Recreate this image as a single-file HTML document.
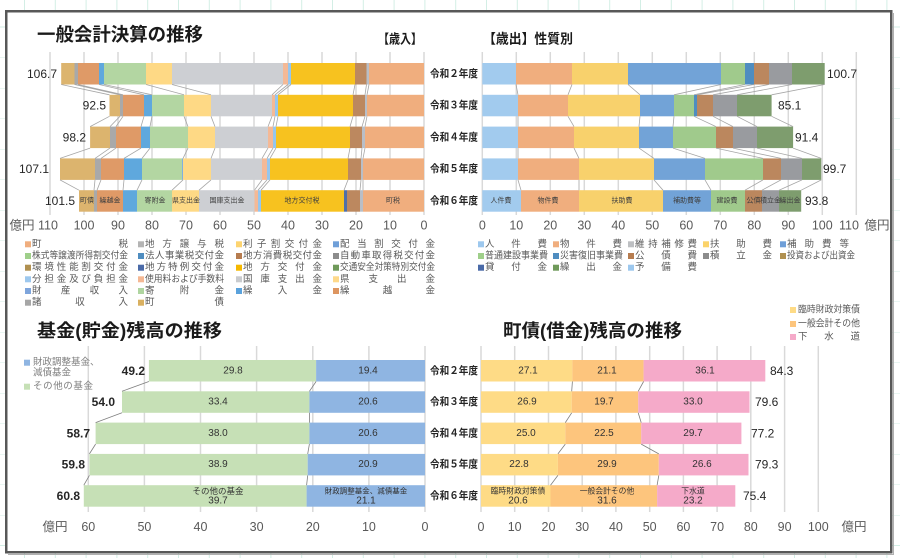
<!DOCTYPE html>
<html><head><meta charset="utf-8">
<style>
html,body{margin:0;padding:0;background:#fff;}
svg{display:block;}
text{font-family:"Liberation Sans","Noto Sans CJK JP",sans-serif;}
.tk{font-size:12.5px;fill:#595959;text-anchor:middle;}
.rl{font-size:10.5px;font-weight:bold;fill:#262626;}
.lg{font-size:9.5px;fill:#595959;}
.sm{font-size:7px;fill:#404040;text-anchor:middle;}
.in{font-size:10px;fill:#333;text-anchor:middle;}
.tt{font-weight:bold;fill:#1a1a1a;}
.vl{font-size:12px;fill:#262626;}
</style></head><body>
<svg width="900" height="558" viewBox="0 0 900 558" xmlns="http://www.w3.org/2000/svg">
<defs>
<pattern id="bg" x="24" y="26.5" width="30.8" height="30.5" patternUnits="userSpaceOnUse">
<path d="M0.5 0V30.5M0 0.5H30.8" stroke="#d3eee5" stroke-width="1" fill="none"/>
</pattern>
</defs>
<rect width="900" height="558" fill="#fff"/>
<rect width="900" height="558" fill="url(#bg)"/>
<line x1="893.5" y1="13" x2="893.5" y2="555" stroke="#b0b0b0" stroke-width="1"/>
<line x1="8" y1="554.5" x2="894" y2="554.5" stroke="#b0b0b0" stroke-width="1"/>
<rect x="6.25" y="11.25" width="885" height="541" fill="#fff" stroke="#585858" stroke-width="2.5"/>

<!-- Titles -->
<text class="tt" x="37" y="41" font-size="18.5" textLength="166" lengthAdjust="spacingAndGlyphs">一般会計決算の推移</text>
<text class="tt" x="378" y="43.5" font-size="13" textLength="44" lengthAdjust="spacingAndGlyphs">【歳入】</text>
<text class="tt" x="483" y="43.5" font-size="13.5" textLength="90" lengthAdjust="spacingAndGlyphs">【歳出】性質別</text>
<text class="tt" x="37" y="337" font-size="18" textLength="185" lengthAdjust="spacingAndGlyphs">基金(貯金)残高の推移</text>
<text class="tt" x="503" y="337" font-size="18" textLength="179" lengthAdjust="spacingAndGlyphs">町債(借金)残高の推移</text>

<!-- Top gridlines -->
<g stroke="#d9d9d9" stroke-width="1.5">
<line x1="424" y1="52" x2="424" y2="215"/><line x1="390" y1="52" x2="390" y2="215"/><line x1="356" y1="52" x2="356" y2="215"/><line x1="322" y1="52" x2="322" y2="215"/><line x1="288" y1="52" x2="288" y2="215"/><line x1="254" y1="52" x2="254" y2="215"/><line x1="220" y1="52" x2="220" y2="215"/><line x1="186" y1="52" x2="186" y2="215"/><line x1="152" y1="52" x2="152" y2="215"/><line x1="118" y1="52" x2="118" y2="215"/><line x1="84" y1="52" x2="84" y2="215"/><line x1="50" y1="52" x2="50" y2="215"/>
<line x1="482.3" y1="52" x2="482.3" y2="215"/><line x1="516.3" y1="52" x2="516.3" y2="215"/><line x1="550.3" y1="52" x2="550.3" y2="215"/><line x1="584.3" y1="52" x2="584.3" y2="215"/><line x1="618.3" y1="52" x2="618.3" y2="215"/><line x1="652.3" y1="52" x2="652.3" y2="215"/><line x1="686.3" y1="52" x2="686.3" y2="215"/><line x1="720.3" y1="52" x2="720.3" y2="215"/><line x1="754.3" y1="52" x2="754.3" y2="215"/><line x1="788.3" y1="52" x2="788.3" y2="215"/><line x1="822.3" y1="52" x2="822.3" y2="215"/><line x1="856.3" y1="52" x2="856.3" y2="215"/>
</g>

<!-- Top-left bars -->
<g transform="translate(0,63)">
<rect x="61.2" y="0" width="13.3" height="21.5" fill="#dcb46e"/><rect x="74.5" y="0" width="3.5" height="21.5" fill="#a9a9a9"/><rect x="78" y="0" width="21" height="21.5" fill="#df9a67"/><rect x="99" y="0" width="5" height="21.5" fill="#5fa8dd"/><rect x="104" y="0" width="42" height="21.5" fill="#b3d6a2"/><rect x="146" y="0" width="26" height="21.5" fill="#fed985"/><rect x="172" y="0" width="111" height="21.5" fill="#cdcfd3"/><rect x="283" y="0" width="5" height="21.5" fill="#f4b996"/><rect x="288" y="0" width="3" height="21.5" fill="#95c6ee"/><rect x="291" y="0" width="64" height="21.5" fill="#f7c21f"/><rect x="355" y="0" width="11.5" height="21.5" fill="#bc885f"/><rect x="366.5" y="0" width="2.5" height="21.5" fill="#b9bec6"/><rect x="369" y="0" width="55" height="21.5" fill="#f0ae7e"/>
</g>
<g transform="translate(0,94.8)">
<rect x="109.5" y="0" width="10.5" height="21.5" fill="#dcb46e"/><rect x="120" y="0" width="3" height="21.5" fill="#a9a9a9"/><rect x="123" y="0" width="21" height="21.5" fill="#df9a67"/><rect x="144" y="0" width="8" height="21.5" fill="#5fa8dd"/><rect x="152" y="0" width="32" height="21.5" fill="#b3d6a2"/><rect x="184" y="0" width="27" height="21.5" fill="#fed985"/><rect x="211" y="0" width="61" height="21.5" fill="#cdcfd3"/><rect x="272" y="0" width="3" height="21.5" fill="#f4b996"/><rect x="275" y="0" width="3" height="21.5" fill="#95c6ee"/><rect x="278" y="0" width="75" height="21.5" fill="#f7c21f"/><rect x="353" y="0" width="12" height="21.5" fill="#bc885f"/><rect x="365" y="0" width="2" height="21.5" fill="#b9bec6"/><rect x="367" y="0" width="57" height="21.5" fill="#f0ae7e"/>
</g>
<g transform="translate(0,126.6)">
<rect x="90.1" y="0" width="19.9" height="21.5" fill="#dcb46e"/><rect x="110" y="0" width="6" height="21.5" fill="#a9a9a9"/><rect x="116" y="0" width="25" height="21.5" fill="#df9a67"/><rect x="141" y="0" width="9" height="21.5" fill="#5fa8dd"/><rect x="150" y="0" width="38" height="21.5" fill="#b3d6a2"/><rect x="188" y="0" width="27" height="21.5" fill="#fed985"/><rect x="215" y="0" width="53" height="21.5" fill="#cdcfd3"/><rect x="268" y="0" width="5" height="21.5" fill="#f4b996"/><rect x="273" y="0" width="3" height="21.5" fill="#95c6ee"/><rect x="276" y="0" width="74" height="21.5" fill="#f7c21f"/><rect x="350" y="0" width="12" height="21.5" fill="#bc885f"/><rect x="362" y="0" width="3" height="21.5" fill="#b9bec6"/><rect x="365" y="0" width="59" height="21.5" fill="#f0ae7e"/>
</g>
<g transform="translate(0,158.4)">
<rect x="60" y="0" width="35" height="21.5" fill="#dcb46e"/><rect x="95" y="0" width="6" height="21.5" fill="#a9a9a9"/><rect x="101" y="0" width="23" height="21.5" fill="#df9a67"/><rect x="124" y="0" width="18" height="21.5" fill="#5fa8dd"/><rect x="142" y="0" width="40" height="21.5" fill="#b3d6a2"/><rect x="182" y="0" width="1" height="21.5" fill="#7fb0e0"/><rect x="183" y="0" width="28" height="21.5" fill="#fed985"/><rect x="211" y="0" width="51" height="21.5" fill="#cdcfd3"/><rect x="262" y="0" width="5" height="21.5" fill="#f4b996"/><rect x="267" y="0" width="3" height="21.5" fill="#95c6ee"/><rect x="270" y="0" width="78" height="21.5" fill="#f7c21f"/><rect x="348" y="0" width="13" height="21.5" fill="#bc885f"/><rect x="361" y="0" width="2" height="21.5" fill="#b9bec6"/><rect x="363" y="0" width="61" height="21.5" fill="#f0ae7e"/>
</g>
<g transform="translate(0,190.2)">
<rect x="79" y="0" width="15" height="21.5" fill="#dcb46e"/><rect x="94" y="0" width="3" height="21.5" fill="#a9a9a9"/><rect x="97" y="0" width="26" height="21.5" fill="#df9a67"/><rect x="123" y="0" width="14" height="21.5" fill="#5fa8dd"/><rect x="137" y="0" width="35" height="21.5" fill="#b3d6a2"/><rect x="172" y="0" width="27" height="21.5" fill="#fed985"/><rect x="199" y="0" width="55.5" height="21.5" fill="#cdcfd3"/><rect x="254.5" y="0" width="3.5" height="21.5" fill="#f4b996"/><rect x="258" y="0" width="3" height="21.5" fill="#95c6ee"/><rect x="261" y="0" width="83" height="21.5" fill="#f7c21f"/><rect x="344" y="0" width="3" height="21.5" fill="#4f6fa8"/><rect x="347" y="0" width="13" height="21.5" fill="#bc885f"/><rect x="360" y="0" width="3" height="21.5" fill="#b9bec6"/><rect x="363" y="0" width="61" height="21.5" fill="#f0ae7e"/>
<text class="sm" x="87" y="11" dominant-baseline="central">町債</text>
<text class="sm" x="110" y="11" dominant-baseline="central">繰越金</text>
<text class="sm" x="155" y="11" dominant-baseline="central">寄附金</text>
<text class="sm" x="186" y="11" dominant-baseline="central">県支出金</text>
<text class="sm" x="227" y="11" dominant-baseline="central">国庫支出金</text>
<text class="sm" x="302" y="11" dominant-baseline="central">地方交付税</text>
<text class="sm" x="393" y="11" dominant-baseline="central">町税</text>
</g>
<path fill="none" stroke="#a6a6a6" stroke-width="0.8" d="M61.2 84.5L109.5 94.8M74.5 84.5L120 94.8M78 84.5L123 94.8M99 84.5L144 94.8M104 84.5L152 94.8M146 84.5L184 94.8M172 84.5L211 94.8M283 84.5L272 94.8M288 84.5L275 94.8M291 84.5L278 94.8M355 84.5L353 94.8M366.5 84.5L365 94.8M369 84.5L367 94.8
M109.5 116.3L90.1 126.6M120 116.3L110 126.6M123 116.3L116 126.6M144 116.3L141 126.6M152 116.3L150 126.6M184 116.3L188 126.6M211 116.3L215 126.6M272 116.3L268 126.6M275 116.3L273 126.6M278 116.3L276 126.6M353 116.3L350 126.6M365 116.3L362 126.6M367 116.3L365 126.6
M90.1 148.1L60 158.4M110 148.1L95 158.4M116 148.1L101 158.4M141 148.1L124 158.4M150 148.1L142 158.4M188 148.1L183 158.4M215 148.1L211 158.4M268 148.1L262 158.4M273 148.1L267 158.4M276 148.1L270 158.4M350 148.1L348 158.4M362 148.1L361 158.4M365 148.1L363 158.4
M60 179.9L79 190.2M95 179.9L94 190.2M101 179.9L97 190.2M124 179.9L123 190.2M142 179.9L137 190.2M183 179.9L172 190.2M211 179.9L199 190.2M262 179.9L254.5 190.2M267 179.9L258 190.2M270 179.9L261 190.2M348 179.9L344 190.2M361 179.9L360 190.2M363 179.9L363 190.2"/>

<!-- Top-left values -->
<g class="vl" text-anchor="end">
<text x="57" y="73.75" dominant-baseline="central">106.7</text>
<text x="106" y="105.55" dominant-baseline="central">92.5</text>
<text x="86" y="137.35" dominant-baseline="central">98.2</text>
<text x="49" y="169.15" dominant-baseline="central">107.1</text>
<text x="75" y="200.95" dominant-baseline="central">101.5</text>
</g>

<!-- Top-right bars -->
<g transform="translate(0,63)">
<rect x="482.3" y="0" width="33.7" height="21.5" fill="#a2cbee"/><rect x="516" y="0" width="56" height="21.5" fill="#f0ae7e"/><rect x="572" y="0" width="56" height="21.5" fill="#f8d16c"/><rect x="628" y="0" width="93" height="21.5" fill="#72a3d7"/><rect x="721" y="0" width="24" height="21.5" fill="#a0ca8c"/><rect x="745" y="0" width="9" height="21.5" fill="#4f8dc0"/><rect x="754" y="0" width="15" height="21.5" fill="#bb875e"/><rect x="769" y="0" width="23" height="21.5" fill="#999b9f"/><rect x="792" y="0" width="32.7" height="21.5" fill="#7e9d6e"/>
</g>
<g transform="translate(0,94.8)">
<rect x="482.3" y="0" width="35.7" height="21.5" fill="#a2cbee"/><rect x="518" y="0" width="50" height="21.5" fill="#f0ae7e"/><rect x="568" y="0" width="72" height="21.5" fill="#f8d16c"/><rect x="640" y="0" width="34" height="21.5" fill="#72a3d7"/><rect x="674" y="0" width="20" height="21.5" fill="#a0ca8c"/><rect x="694" y="0" width="3" height="21.5" fill="#4f8dc0"/><rect x="697" y="0" width="16" height="21.5" fill="#bb875e"/><rect x="713" y="0" width="24" height="21.5" fill="#999b9f"/><rect x="737" y="0" width="34.6" height="21.5" fill="#7e9d6e"/>
</g>
<g transform="translate(0,126.6)">
<rect x="482.3" y="0" width="35.7" height="21.5" fill="#a2cbee"/><rect x="518" y="0" width="56" height="21.5" fill="#f0ae7e"/><rect x="574" y="0" width="65" height="21.5" fill="#f8d16c"/><rect x="639" y="0" width="34" height="21.5" fill="#72a3d7"/><rect x="673" y="0" width="43" height="21.5" fill="#a0ca8c"/><rect x="716" y="0" width="17" height="21.5" fill="#bb875e"/><rect x="733" y="0" width="24" height="21.5" fill="#999b9f"/><rect x="757" y="0" width="36.1" height="21.5" fill="#7e9d6e"/>
</g>
<g transform="translate(0,158.4)">
<rect x="482.3" y="0" width="35.7" height="21.5" fill="#a2cbee"/><rect x="518" y="0" width="61" height="21.5" fill="#f0ae7e"/><rect x="579" y="0" width="75" height="21.5" fill="#f8d16c"/><rect x="654" y="0" width="51" height="21.5" fill="#72a3d7"/><rect x="705" y="0" width="58" height="21.5" fill="#a0ca8c"/><rect x="763" y="0" width="18" height="21.5" fill="#bb875e"/><rect x="781" y="0" width="21" height="21.5" fill="#999b9f"/><rect x="802" y="0" width="19.3" height="21.5" fill="#7e9d6e"/>
</g>
<g transform="translate(0,190.2)">
<rect x="482.3" y="0" width="38.7" height="21.5" fill="#a2cbee"/><rect x="521" y="0" width="58" height="21.5" fill="#f0ae7e"/><rect x="579" y="0" width="84" height="21.5" fill="#f8d16c"/><rect x="663" y="0" width="48" height="21.5" fill="#72a3d7"/><rect x="711" y="0" width="34" height="21.5" fill="#a0ca8c"/><rect x="745" y="0" width="17" height="21.5" fill="#bb875e"/><rect x="762" y="0" width="17" height="21.5" fill="#999b9f"/><rect x="779" y="0" width="22.2" height="21.5" fill="#7e9d6e"/>
<text class="sm" x="501" y="11" dominant-baseline="central">人件費</text>
<text class="sm" x="548" y="11" dominant-baseline="central">物件費</text>
<text class="sm" x="622" y="11" dominant-baseline="central">扶助費</text>
<text class="sm" x="687" y="11" dominant-baseline="central">補助費等</text>
<text class="sm" x="727" y="11" dominant-baseline="central">建設費</text>
<text class="sm" x="753.5" y="11" dominant-baseline="central">公債</text>
<text class="sm" x="770.5" y="11" dominant-baseline="central">積立金</text>
<text class="sm" x="790" y="11" dominant-baseline="central">繰出金</text>
</g>
<path fill="none" stroke="#a6a6a6" stroke-width="0.8" d="M516 84.5L518 94.8M572 84.5L568 94.8M628 84.5L640 94.8M721 84.5L674 94.8M745 84.5L694 94.8M754 84.5L697 94.8M769 84.5L713 94.8M792 84.5L737 94.8M824.7 84.5L771.6 94.8
M518 116.3L518 126.6M568 116.3L574 126.6M640 116.3L639 126.6M674 116.3L673 126.6M694 116.3L716 126.6M713 116.3L733 126.6M737 116.3L757 126.6M771.6 116.3L793.1 126.6
M518 148.1L518 158.4M574 148.1L579 158.4M639 148.1L654 158.4M673 148.1L705 158.4M716 148.1L763 158.4M733 148.1L781 158.4M757 148.1L802 158.4M793.1 148.1L821.3 158.4
M518 179.9L521 190.2M579 179.9L579 190.2M654 179.9L663 190.2M705 179.9L711 190.2M763 179.9L745 190.2M781 179.9L762 190.2M802 179.9L779 190.2M821.3 179.9L801.2 190.2"/>

<!-- Top-right values -->
<g class="vl">
<text x="827" y="73.75" dominant-baseline="central">100.7</text>
<text x="778" y="105.55" dominant-baseline="central">85.1</text>
<text x="795" y="137.35" dominant-baseline="central">91.4</text>
<text x="823" y="169.15" dominant-baseline="central">99.7</text>
<text x="805" y="200.95" dominant-baseline="central">93.8</text>
</g>

<!-- Row labels -->
<g class="rl">
<text x="430" y="73.75" dominant-baseline="central" textLength="48" lengthAdjust="spacingAndGlyphs">令和２年度</text>
<text x="430" y="105.55" dominant-baseline="central" textLength="48" lengthAdjust="spacingAndGlyphs">令和３年度</text>
<text x="430" y="137.35" dominant-baseline="central" textLength="48" lengthAdjust="spacingAndGlyphs">令和４年度</text>
<text x="430" y="169.15" dominant-baseline="central" textLength="48" lengthAdjust="spacingAndGlyphs">令和５年度</text>
<text x="430" y="200.95" dominant-baseline="central" textLength="48" lengthAdjust="spacingAndGlyphs">令和６年度</text>
<text x="430" y="370.75" dominant-baseline="central" textLength="48" lengthAdjust="spacingAndGlyphs">令和２年度</text>
<text x="430" y="402.05" dominant-baseline="central" textLength="48" lengthAdjust="spacingAndGlyphs">令和３年度</text>
<text x="430" y="433.35" dominant-baseline="central" textLength="48" lengthAdjust="spacingAndGlyphs">令和４年度</text>
<text x="430" y="464.65" dominant-baseline="central" textLength="48" lengthAdjust="spacingAndGlyphs">令和５年度</text>
<text x="430" y="495.95" dominant-baseline="central" textLength="48" lengthAdjust="spacingAndGlyphs">令和６年度</text>
</g>

<!-- Top ticks -->
<g class="tk">
<text x="22" y="225.5" dominant-baseline="central">億円</text>
<text x="48" y="225.5" dominant-baseline="central">110</text><text x="84" y="225.5" dominant-baseline="central">100</text><text x="118" y="225.5" dominant-baseline="central">90</text><text x="152" y="225.5" dominant-baseline="central">80</text><text x="186" y="225.5" dominant-baseline="central">70</text><text x="220" y="225.5" dominant-baseline="central">60</text><text x="254" y="225.5" dominant-baseline="central">50</text><text x="288" y="225.5" dominant-baseline="central">40</text><text x="322" y="225.5" dominant-baseline="central">30</text><text x="356" y="225.5" dominant-baseline="central">20</text><text x="390" y="225.5" dominant-baseline="central">10</text><text x="424" y="225.5" dominant-baseline="central">0</text>
<text x="482.3" y="225.5" dominant-baseline="central">0</text><text x="516.3" y="225.5" dominant-baseline="central">10</text><text x="550.3" y="225.5" dominant-baseline="central">20</text><text x="584.3" y="225.5" dominant-baseline="central">30</text><text x="618.3" y="225.5" dominant-baseline="central">40</text><text x="652.3" y="225.5" dominant-baseline="central">50</text><text x="686.3" y="225.5" dominant-baseline="central">60</text><text x="720.3" y="225.5" dominant-baseline="central">70</text><text x="754.3" y="225.5" dominant-baseline="central">80</text><text x="788.3" y="225.5" dominant-baseline="central">90</text><text x="822.3" y="225.5" dominant-baseline="central">100</text><text x="849" y="225.5" dominant-baseline="central">110</text>
<text x="877" y="225.5" dominant-baseline="central">億円</text>
</g>

<!-- 歳入 legend -->
<g class="lg">
<rect x="25" y="241.3" width="6" height="6" fill="#f0ae7e"/><text x="32" y="244.3" dominant-baseline="central" textLength="96" lengthAdjust="spacing">町税</text>
<rect x="138" y="241.3" width="6" height="6" fill="#b4b4b4"/><text x="145" y="244.3" dominant-baseline="central" textLength="79" lengthAdjust="spacing">地方譲与税</text>
<rect x="236" y="241.3" width="6" height="6" fill="#fdd470"/><text x="243" y="244.3" dominant-baseline="central" textLength="79" lengthAdjust="spacing">利子割交付金</text>
<rect x="333" y="241.3" width="6" height="6" fill="#6f9fd8"/><text x="340" y="244.3" dominant-baseline="central" textLength="95" lengthAdjust="spacing">配当割交付金</text>

<rect x="25" y="253" width="6" height="6" fill="#9fcf8a"/><text x="32" y="256" dominant-baseline="central" textLength="96" lengthAdjust="spacingAndGlyphs">株式等譲渡所得割交付金</text>
<rect x="138" y="253" width="6" height="6" fill="#4f8dc0"/><text x="145" y="256" dominant-baseline="central" textLength="79" lengthAdjust="spacing">法人事業税交付金</text>
<rect x="236" y="253" width="6" height="6" fill="#b67c4f"/><text x="243" y="256" dominant-baseline="central" textLength="79" lengthAdjust="spacing">地方消費税交付金</text>
<rect x="333" y="253" width="6" height="6" fill="#8c8c8c"/><text x="340" y="256" dominant-baseline="central" textLength="95" lengthAdjust="spacing">自動車取得税交付金</text>

<rect x="25" y="264.7" width="6" height="6" fill="#b09050"/><text x="32" y="267.7" dominant-baseline="central" textLength="96" lengthAdjust="spacing">環境性能割交付金</text>
<rect x="138" y="264.7" width="6" height="6" fill="#4a6aa8"/><text x="145" y="267.7" dominant-baseline="central" textLength="79" lengthAdjust="spacing">地方特例交付金</text>
<rect x="236" y="264.7" width="6" height="6" fill="#f5b800"/><text x="243" y="267.7" dominant-baseline="central" textLength="79" lengthAdjust="spacing">地方交付金</text>
<rect x="333" y="264.7" width="6" height="6" fill="#6f9a5a"/><text x="340" y="267.7" dominant-baseline="central" textLength="95" lengthAdjust="spacingAndGlyphs">交通安全対策特別交付金</text>

<rect x="25" y="276.3" width="6" height="6" fill="#9dc8ee"/><text x="32" y="279.3" dominant-baseline="central" textLength="96" lengthAdjust="spacing">分担金及び負担金</text>
<rect x="138" y="276.3" width="6" height="6" fill="#f5b894"/><text x="145" y="279.3" dominant-baseline="central" textLength="79" lengthAdjust="spacingAndGlyphs">使用料および手数料</text>
<rect x="236" y="276.3" width="6" height="6" fill="#c9cbce"/><text x="243" y="279.3" dominant-baseline="central" textLength="79" lengthAdjust="spacing">国庫支出金</text>
<rect x="333" y="276.3" width="6" height="6" fill="#fed98a"/><text x="340" y="279.3" dominant-baseline="central" textLength="95" lengthAdjust="spacing">県支出金</text>

<rect x="25" y="288" width="6" height="6" fill="#7ea5dc"/><text x="32" y="291" dominant-baseline="central" textLength="96" lengthAdjust="spacing">財産収入</text>
<rect x="138" y="288" width="6" height="6" fill="#afd5a0"/><text x="145" y="291" dominant-baseline="central" textLength="79" lengthAdjust="spacing">寄附金</text>
<rect x="236" y="288" width="6" height="6" fill="#5aa2dc"/><text x="243" y="291" dominant-baseline="central" textLength="79" lengthAdjust="spacing">繰入金</text>
<rect x="333" y="288" width="6" height="6" fill="#dd9560"/><text x="340" y="291" dominant-baseline="central" textLength="95" lengthAdjust="spacing">繰越金</text>

<rect x="25" y="299.7" width="6" height="6" fill="#a6a6a6"/><text x="32" y="302.7" dominant-baseline="central" textLength="96" lengthAdjust="spacing">諸収入</text>
<rect x="138" y="299.7" width="6" height="6" fill="#d9b060"/><text x="145" y="302.7" dominant-baseline="central" textLength="79" lengthAdjust="spacing">町債</text>
</g>

<!-- 歳出 legend -->
<g class="lg">
<rect x="478" y="241.3" width="6" height="6" fill="#9dc8ee"/><text x="485" y="244.3" dominant-baseline="central" textLength="62" lengthAdjust="spacing">人件費</text>
<rect x="553" y="241.3" width="6" height="6" fill="#f0ae7e"/><text x="560" y="244.3" dominant-baseline="central" textLength="62" lengthAdjust="spacing">物件費</text>
<rect x="628" y="241.3" width="6" height="6" fill="#bdbfc2"/><text x="635" y="244.3" dominant-baseline="central" textLength="62" lengthAdjust="spacing">維持補修費</text>
<rect x="703" y="241.3" width="6" height="6" fill="#fbd36a"/><text x="710" y="244.3" dominant-baseline="central" textLength="62" lengthAdjust="spacing">扶助費</text>
<rect x="780" y="241.3" width="6" height="6" fill="#6f9fd8"/><text x="787" y="244.3" dominant-baseline="central" textLength="62" lengthAdjust="spacing">補助費等</text>

<rect x="478" y="253" width="6" height="6" fill="#9fcf8a"/><text x="485" y="256" dominant-baseline="central" textLength="63" lengthAdjust="spacingAndGlyphs">普通建設事業費</text>
<rect x="553" y="253" width="6" height="6" fill="#4f8dc0"/><text x="560" y="256" dominant-baseline="central" textLength="63" lengthAdjust="spacingAndGlyphs">災害復旧事業費</text>
<rect x="628" y="253" width="6" height="6" fill="#b67c4f"/><text x="635" y="256" dominant-baseline="central" textLength="62" lengthAdjust="spacing">公債費</text>
<rect x="703" y="253" width="6" height="6" fill="#8c8c8c"/><text x="710" y="256" dominant-baseline="central" textLength="62" lengthAdjust="spacing">積立金</text>
<rect x="780" y="253" width="6" height="6" fill="#b09050"/><text x="787" y="256" dominant-baseline="central" textLength="68" lengthAdjust="spacingAndGlyphs">投資および出資金</text>

<rect x="478" y="264.7" width="6" height="6" fill="#4a6aa8"/><text x="485" y="267.7" dominant-baseline="central" textLength="62" lengthAdjust="spacing">貸付金</text>
<rect x="553" y="264.7" width="6" height="6" fill="#6f9a5a"/><text x="560" y="267.7" dominant-baseline="central" textLength="62" lengthAdjust="spacing">繰出金</text>
<rect x="628" y="264.7" width="6" height="6" fill="#9dc8ee"/><text x="635" y="267.7" dominant-baseline="central" textLength="62" lengthAdjust="spacing">予備費</text>
</g>

<!-- Bottom gridlines -->
<g stroke="#d9d9d9" stroke-width="1.5">
<line x1="425" y1="346" x2="425" y2="512"/><line x1="368.9" y1="346" x2="368.9" y2="512"/><line x1="312.8" y1="346" x2="312.8" y2="512"/><line x1="256.6" y1="346" x2="256.6" y2="512"/><line x1="200.5" y1="346" x2="200.5" y2="512"/><line x1="144.4" y1="346" x2="144.4" y2="512"/><line x1="88.3" y1="346" x2="88.3" y2="512"/>
<line x1="481" y1="346" x2="481" y2="512"/><line x1="514.7" y1="346" x2="514.7" y2="512"/><line x1="548.5" y1="346" x2="548.5" y2="512"/><line x1="582.2" y1="346" x2="582.2" y2="512"/><line x1="615.9" y1="346" x2="615.9" y2="512"/><line x1="649.7" y1="346" x2="649.7" y2="512"/><line x1="683.4" y1="346" x2="683.4" y2="512"/><line x1="717.1" y1="346" x2="717.1" y2="512"/><line x1="750.8" y1="346" x2="750.8" y2="512"/><line x1="784.6" y1="346" x2="784.6" y2="512"/><line x1="818.3" y1="346" x2="818.3" y2="512"/>
</g>

<!-- Bottom-left bars -->
<rect x="148.9" y="360" width="167.2" height="21.5" fill="#c6e0b6"/><rect x="316.1" y="360" width="108.9" height="21.5" fill="#8fb5e2"/>
<rect x="122" y="391.3" width="187.4" height="21.5" fill="#c6e0b6"/><rect x="309.4" y="391.3" width="115.6" height="21.5" fill="#8fb5e2"/>
<rect x="95.6" y="422.6" width="213.8" height="21.5" fill="#c6e0b6"/><rect x="309.4" y="422.6" width="115.6" height="21.5" fill="#8fb5e2"/>
<rect x="89.4" y="453.9" width="218.3" height="21.5" fill="#c6e0b6"/><rect x="307.7" y="453.9" width="117.3" height="21.5" fill="#8fb5e2"/>
<rect x="83.8" y="485.2" width="222.8" height="21.5" fill="#c6e0b6"/><rect x="306.6" y="485.2" width="118.4" height="21.5" fill="#8fb5e2"/>
<path fill="none" stroke="#7f7f7f" stroke-width="0.8" d="M148.9 381.5L122 391.3M316.1 381.5L309.4 391.3M122 412.8L95.6 422.6M309.4 412.8L309.4 422.6M95.6 444.1L89.4 453.9M309.4 444.1L307.7 453.9M89.4 475.4L83.8 485.2M307.7 475.4L306.6 485.2"/>
<g class="in">
<text x="233" y="370.75" dominant-baseline="central">29.8</text><text x="368" y="370.75" dominant-baseline="central">19.4</text>
<text x="218" y="402.05" dominant-baseline="central">33.4</text><text x="368" y="402.05" dominant-baseline="central">20.6</text>
<text x="218" y="433.35" dominant-baseline="central">38.0</text><text x="368" y="433.35" dominant-baseline="central">20.6</text>
<text x="218" y="464.65" dominant-baseline="central">38.9</text><text x="368" y="464.65" dominant-baseline="central">20.9</text>
<text x="218" y="491" dominant-baseline="central" font-size="8.5">その他の基金</text><text x="218" y="501" dominant-baseline="central">39.7</text>
<text x="366" y="491" dominant-baseline="central" font-size="7.5">財政調整基金、減債基金</text><text x="366" y="501" dominant-baseline="central">21.1</text>
</g>
<g class="vl" font-weight="bold" text-anchor="end">
<text x="145" y="370.75" dominant-baseline="central">49.2</text>
<text x="115" y="402.05" dominant-baseline="central">54.0</text>
<text x="90" y="433.35" dominant-baseline="central">58.7</text>
<text x="85" y="464.65" dominant-baseline="central">59.8</text>
<text x="80" y="495.95" dominant-baseline="central">60.8</text>
</g>
<g class="lg" fill="#7f7f7f" style="fill:#7f7f7f">
<rect x="24" y="359.7" width="6" height="6" fill="#8fb5e2"/><text x="33" y="362.7" dominant-baseline="central">財政調整基金、</text>
<text x="33" y="373" dominant-baseline="central">減債基金</text>
<rect x="24" y="383.7" width="6" height="6" fill="#c6e0b6"/><text x="33" y="386.7" dominant-baseline="central" textLength="60" lengthAdjust="spacing">その他の基金</text>
</g>

<!-- Bottom-right bars -->
<rect x="481" y="360" width="91.4" height="21.5" fill="#fedb86"/><rect x="572.4" y="360" width="71.2" height="21.5" fill="#fdc57d"/><rect x="643.6" y="360" width="121.7" height="21.5" fill="#f5aac9"/>
<rect x="481" y="391.3" width="90.7" height="21.5" fill="#fedb86"/><rect x="571.7" y="391.3" width="66.5" height="21.5" fill="#fdc57d"/><rect x="638.2" y="391.3" width="111.3" height="21.5" fill="#f5aac9"/>
<rect x="481" y="422.6" width="84.3" height="21.5" fill="#fedb86"/><rect x="565.3" y="422.6" width="75.9" height="21.5" fill="#fdc57d"/><rect x="641.2" y="422.6" width="100.2" height="21.5" fill="#f5aac9"/>
<rect x="481" y="453.9" width="76.9" height="21.5" fill="#fedb86"/><rect x="557.9" y="453.9" width="100.9" height="21.5" fill="#fdc57d"/><rect x="658.8" y="453.9" width="89.7" height="21.5" fill="#f5aac9"/>
<rect x="481" y="485.2" width="69.5" height="21.5" fill="#fedb86"/><rect x="550.5" y="485.2" width="106.6" height="21.5" fill="#fdc57d"/><rect x="657.1" y="485.2" width="78.2" height="21.5" fill="#f5aac9"/>
<path fill="none" stroke="#7f7f7f" stroke-width="0.8" d="M572.4 381.5L571.7 391.3M643.6 381.5L638.2 391.3M571.7 412.8L565.3 422.6M638.2 412.8L641.2 422.6M565.3 444.1L557.9 453.9M641.2 444.1L658.8 453.9M557.9 475.4L550.5 485.2M658.8 475.4L657.1 485.2"/>
<g class="in">
<text x="528" y="370.75" dominant-baseline="central">27.1</text><text x="607" y="370.75" dominant-baseline="central">21.1</text><text x="705" y="370.75" dominant-baseline="central">36.1</text>
<text x="527" y="402.05" dominant-baseline="central">26.9</text><text x="604" y="402.05" dominant-baseline="central">19.7</text><text x="693" y="402.05" dominant-baseline="central">33.0</text>
<text x="526" y="433.35" dominant-baseline="central">25.0</text><text x="604" y="433.35" dominant-baseline="central">22.5</text><text x="693" y="433.35" dominant-baseline="central">29.7</text>
<text x="519" y="464.65" dominant-baseline="central">22.8</text><text x="607" y="464.65" dominant-baseline="central">29.9</text><text x="702" y="464.65" dominant-baseline="central">26.6</text>
<text x="518" y="491" dominant-baseline="central" font-size="7.8">臨時財政対策債</text><text x="518" y="501" dominant-baseline="central">20.6</text>
<text x="607" y="491" dominant-baseline="central" font-size="7.8">一般会計その他</text><text x="607" y="501" dominant-baseline="central">31.6</text>
<text x="693" y="491" dominant-baseline="central" font-size="7.8">下水道</text><text x="693" y="501" dominant-baseline="central">23.2</text>
</g>
<g class="vl" font-size="12.5">
<text x="770" y="370.75" dominant-baseline="central">84.3</text>
<text x="755" y="402.05" dominant-baseline="central">79.6</text>
<text x="751" y="433.35" dominant-baseline="central">77.2</text>
<text x="755" y="464.65" dominant-baseline="central">79.3</text>
<text x="743" y="495.95" dominant-baseline="central">75.4</text>
</g>
<g class="lg">
<rect x="790" y="307" width="6" height="6" fill="#fedb86"/><text x="798" y="310" dominant-baseline="central" textLength="62" lengthAdjust="spacingAndGlyphs">臨時財政対策債</text>
<rect x="790" y="321" width="6" height="6" fill="#fdc57d"/><text x="798" y="324" dominant-baseline="central" textLength="62" lengthAdjust="spacingAndGlyphs">一般会計その他</text>
<rect x="790" y="334" width="6" height="6" fill="#f5aac9"/><text x="798" y="337" dominant-baseline="central" textLength="62" lengthAdjust="spacing">下水道</text>
</g>

<!-- Bottom ticks -->
<g class="tk">
<text x="55" y="527" dominant-baseline="central">億円</text>
<text x="88.3" y="527" dominant-baseline="central">60</text><text x="144.4" y="527" dominant-baseline="central">50</text><text x="200.5" y="527" dominant-baseline="central">40</text><text x="256.6" y="527" dominant-baseline="central">30</text><text x="312.8" y="527" dominant-baseline="central">20</text><text x="368.9" y="527" dominant-baseline="central">10</text><text x="425" y="527" dominant-baseline="central">0</text>
<text x="481" y="527" dominant-baseline="central">0</text><text x="514.7" y="527" dominant-baseline="central">10</text><text x="548.5" y="527" dominant-baseline="central">20</text><text x="582.2" y="527" dominant-baseline="central">30</text><text x="615.9" y="527" dominant-baseline="central">40</text><text x="649.7" y="527" dominant-baseline="central">50</text><text x="683.4" y="527" dominant-baseline="central">60</text><text x="717.1" y="527" dominant-baseline="central">70</text><text x="750.8" y="527" dominant-baseline="central">80</text><text x="784.6" y="527" dominant-baseline="central">90</text><text x="818.3" y="527" dominant-baseline="central">100</text>
<text x="854" y="527" dominant-baseline="central">億円</text>
</g>
</svg>
</body></html>
